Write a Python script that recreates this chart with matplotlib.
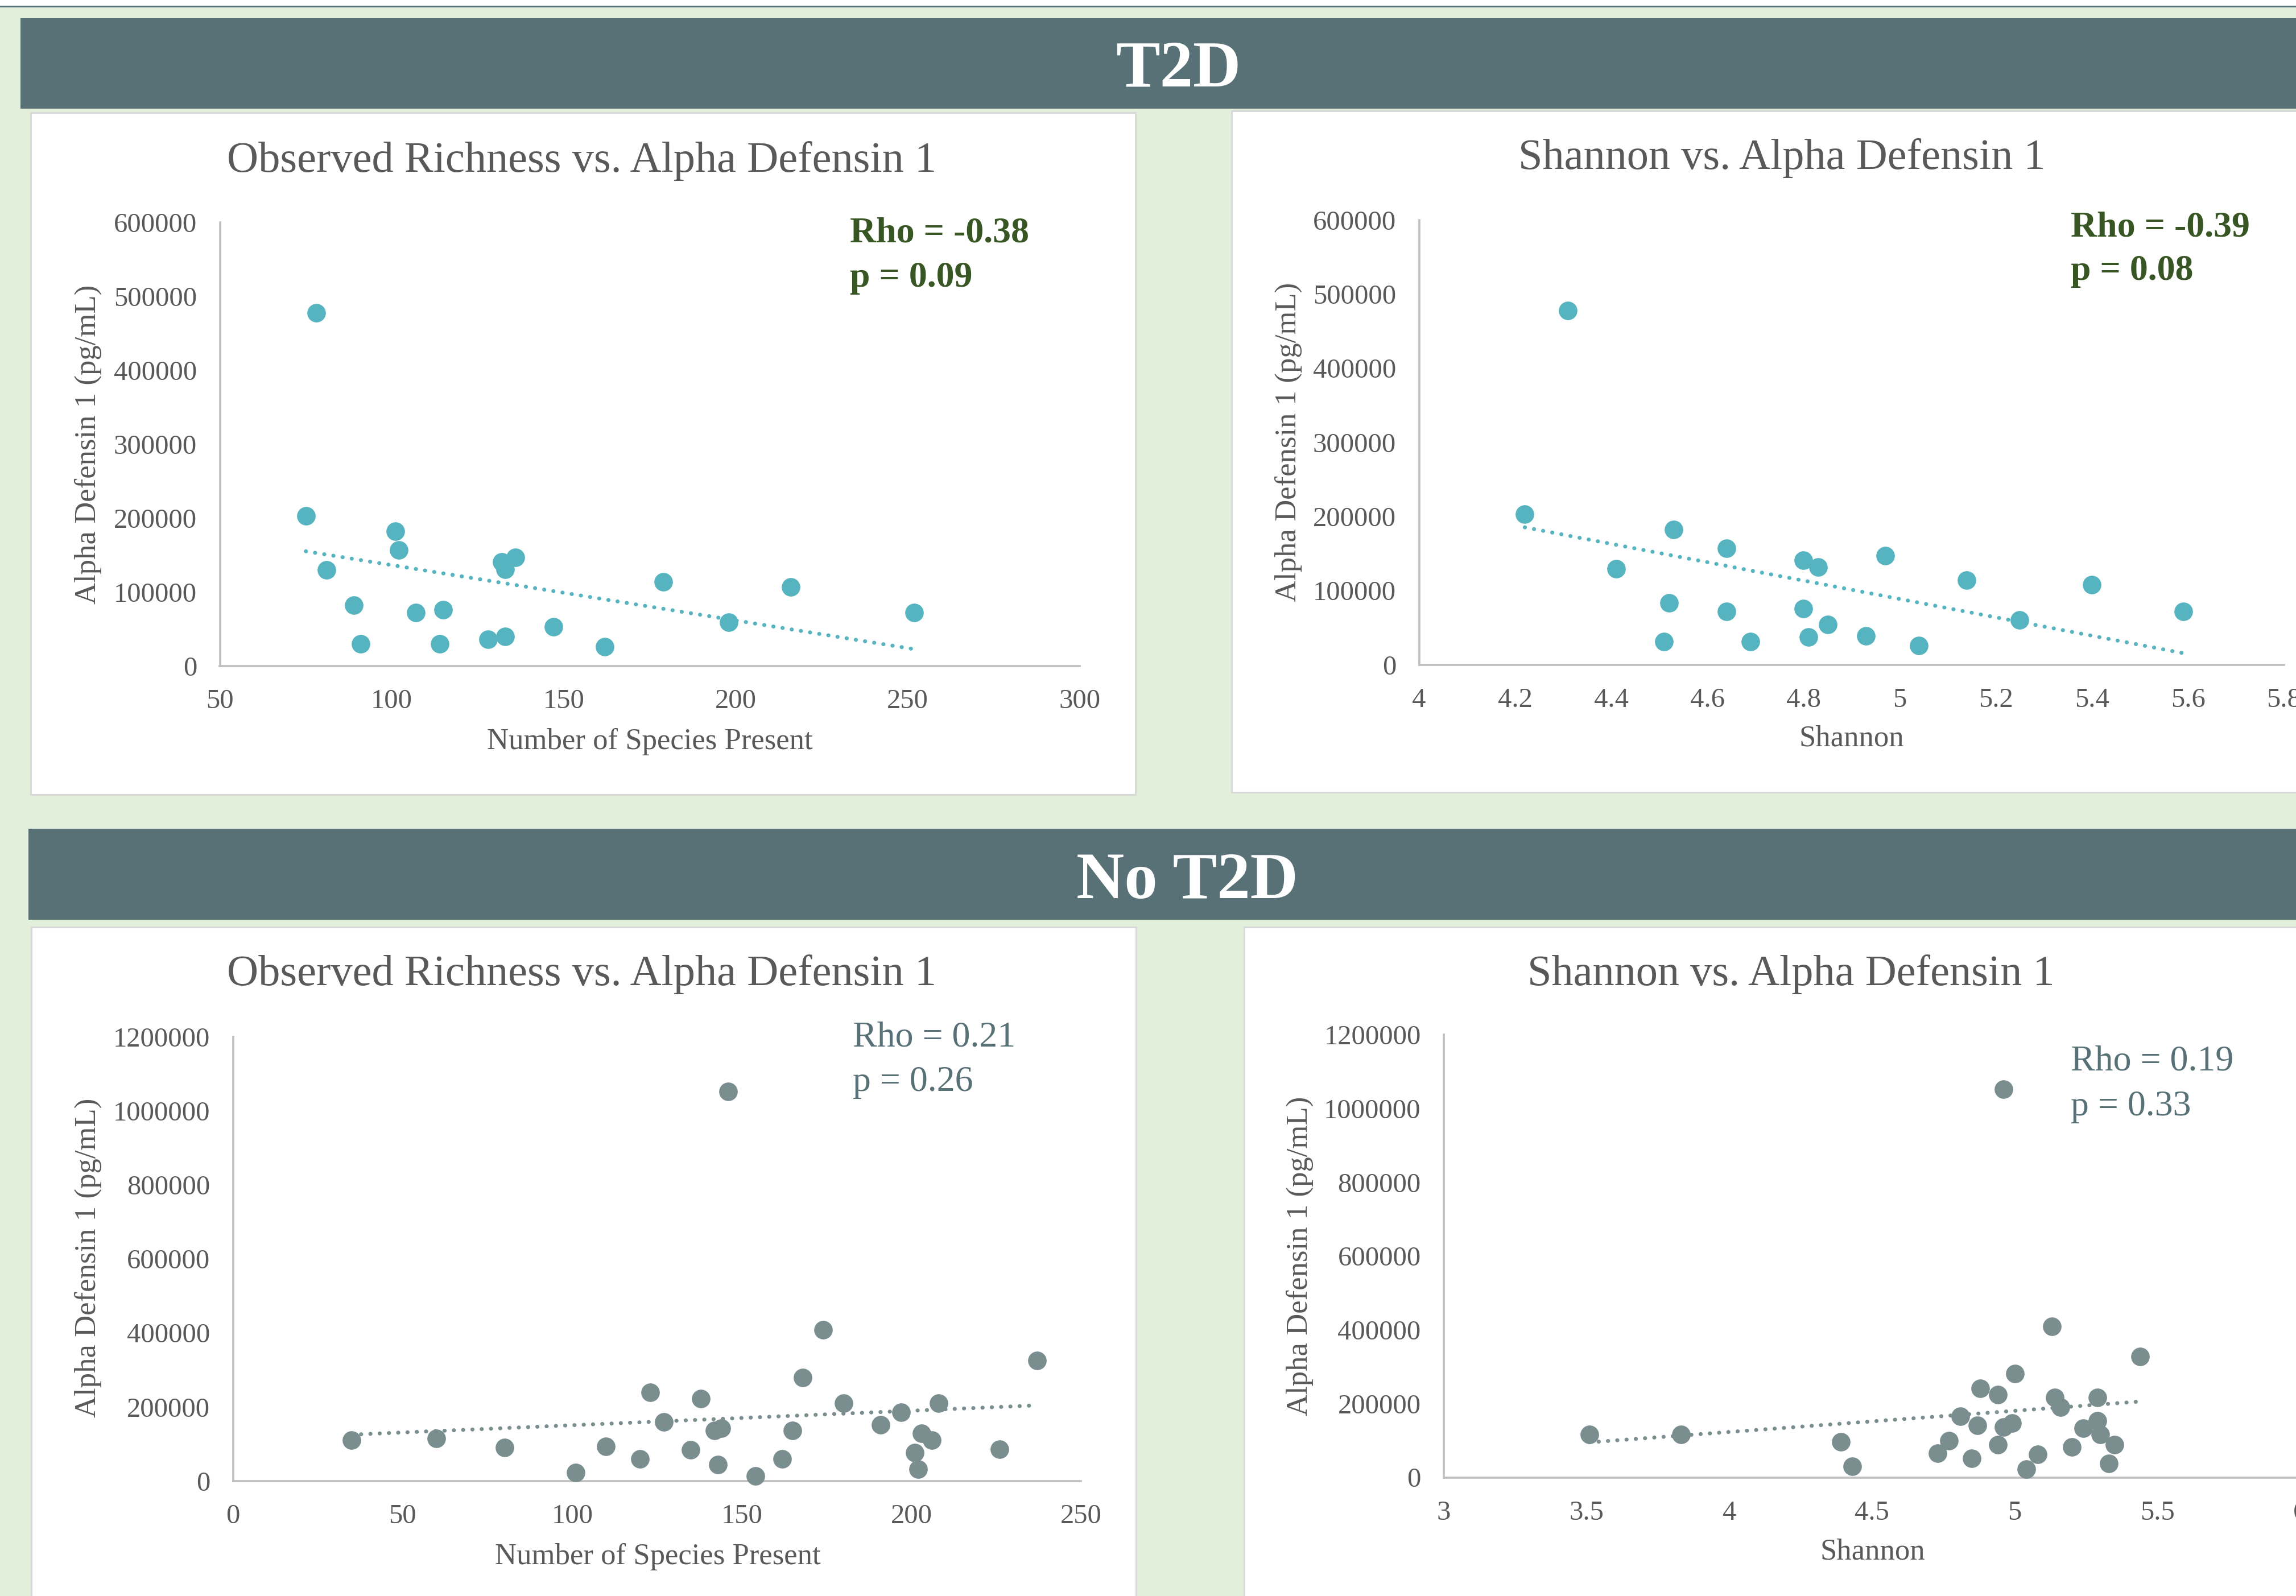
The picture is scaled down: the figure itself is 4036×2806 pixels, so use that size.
import numpy as np
import matplotlib.pyplot as plt
from matplotlib.patches import Rectangle

# ---- data ----
t2d_richness = [78, 75, 81, 89, 91, 101, 102, 107, 114, 115, 128, 132, 133, 133, 136,
                147, 162, 179, 198, 216, 252]
t2d_richness_ad1 = [478000, 203000, 130000, 82000, 30000, 182000, 157000, 72000, 30000,
                    76000, 36000, 141000, 131000, 40000, 147000, 53000, 26000, 114000,
                    59000, 107000, 72000]

t2d_shannon = [4.22, 4.31, 4.41, 4.51, 4.52, 4.53, 4.64, 4.64, 4.69, 4.80, 4.80, 4.81,
               4.83, 4.85, 4.93, 4.97, 5.04, 5.14, 5.25, 5.40, 5.59]
t2d_shannon_ad1 = [203000, 478000, 129000, 31000, 83000, 182000, 157000, 72000, 31000,
                   141000, 76000, 37000, 132000, 54000, 39000, 147000, 26000, 114000,
                   60000, 108000, 72000]

not2d_richness = [35, 60, 80, 101, 110, 120, 123, 127, 135, 138, 142, 144, 143, 146, 154,
                  162, 165, 168, 174, 180, 191, 197, 201, 202, 203, 206, 208, 226, 237]
not2d_richness_ad1 = [110000, 115000, 90000, 22000, 93000, 60000, 239000, 160000, 84000,
                      223000, 136000, 143000, 44000, 1052000, 14000, 60000, 136000, 280000,
                      409000, 210000, 151000, 186000, 77000, 32000, 128000, 110000, 210000,
                      85000, 326000]

not2d_shannon = [3.51, 3.83, 4.39, 4.43, 4.73, 4.77, 4.81, 4.85, 4.87, 4.88, 4.94, 4.94,
                 4.96, 4.96, 4.99, 5.00, 5.04, 5.08, 5.13, 5.14, 5.16, 5.20, 5.24, 5.29,
                 5.29, 5.30, 5.33, 5.35, 5.44]
not2d_shannon_ad1 = [116000, 116000, 96000, 30000, 66000, 100000, 166000, 51000, 141000,
                     241000, 224000, 89000, 1052000, 136000, 147000, 282000, 22000, 63000,
                     410000, 216000, 190000, 83000, 133000, 154000, 217000, 116000, 38000,
                     89000, 328000]

stats = [("Rho = -0.38", "p = 0.09"), ("Rho = -0.39", "p = 0.08"),
         ("Rho = 0.21", "p = 0.26"), ("Rho = 0.19", "p = 0.33")]

W, H = 4037, 2806
BG = "#E2EFDA"
BANNER = "#587177"
TEAL = "#56B4C0"
SLATE = "#7A8D8F"
GREY_TXT = "#595959"
AXIS = "#BFBFBF"
FONT = "Liberation Serif"

plt.rcParams["font.family"] = [FONT, "DejaVu Serif"]

fig = plt.figure(figsize=(W / 100, H / 100), dpi=100, facecolor=BG)


def fx(x):
    return x / W


def fy(y):
    return 1 - y / H


def rect(x0, y0, x1, y1, color, edge=None, lw=0):
    fig.add_artist(Rectangle((fx(x0), fy(y1)), fx(x1) - fx(x0), fy(y0) - fy(y1),
                             transform=fig.transFigure, facecolor=color,
                             edgecolor=edge if edge else color, linewidth=lw, zorder=0))


# top white strip and thin rule
rect(0, 0, W, 10, "white")
rect(0, 10, W, 13, BANNER)

# banners
rect(36, 32, W + 10, 191, BANNER)
rect(50, 1457, W + 10, 1617, BANNER)
fig.text(fx(2071), fy(151), "T2D", color="white", fontsize=84, fontweight="bold",
         ha="center", va="baseline")
fig.text(fx(2087), fy(1579), "No T2D", color="white", fontsize=84, fontweight="bold",
         ha="center", va="baseline")

# white chart panels
rect(54, 198, 1996, 1397, "white", "#D9D9D9", 2.2)
rect(2165, 195, W + 20, 1393, "white", "#D9D9D9", 2.2)
rect(55, 1630, 1997, H + 20, "white", "#D9D9D9", 2.2)
rect(2187, 1630, W + 20, H + 20, "white", "#D9D9D9", 2.2)

panels = [
    dict(x=t2d_richness, y=t2d_richness_ad1, box=(386.5, 391, 1897.6, 1171),
         xlim=(50, 300), xticks=[50, 100, 150, 200, 250, 300], ylim=(0, 600000),
         yticks=range(0, 600001, 100000), color=TEAL,
         title="Observed Richness vs. Alpha Defensin 1", tpos=(1023, 283),
         xlabel="Number of Species Present", xlpos=(1142, 1304), ylpos=(155, 781),
         spos=(1494, 410, 489), scolor="#375623", sweight="bold"),
    dict(x=t2d_shannon, y=t2d_shannon_ad1, box=(2494.5, 387, 4015, 1168.5),
         xlim=(4, 5.8), xticks=[4, 4.2, 4.4, 4.6, 4.8, 5, 5.2, 5.4, 5.6, 5.8],
         ylim=(0, 600000), yticks=range(0, 600001, 100000), color=TEAL,
         title="Shannon vs. Alpha Defensin 1", tpos=(3132, 278),
         xlabel="Shannon", xlpos=(3255, 1299), ylpos=(2265, 777),
         spos=(3640, 400, 477), scolor="#375623", sweight="bold"),
    dict(x=not2d_richness, y=not2d_richness_ad1, box=(409.7, 1823, 1900, 2603.7),
         xlim=(0, 250), xticks=[0, 50, 100, 150, 200, 250], ylim=(0, 1200000),
         yticks=range(0, 1200001, 200000), color=SLATE,
         title="Observed Richness vs. Alpha Defensin 1", tpos=(1023, 1713),
         xlabel="Number of Species Present", xlpos=(1156, 2737), ylpos=(155, 2211),
         spos=(1499, 1825, 1903), scolor=BANNER, sweight="normal"),
    dict(x=not2d_shannon, y=not2d_shannon_ad1, box=(2538, 1819, 4043.5, 2597.5),
         xlim=(3, 6), xticks=[3, 3.5, 4, 4.5, 5, 5.5, 6], ylim=(0, 1200000),
         yticks=range(0, 1200001, 200000), color=SLATE,
         title="Shannon vs. Alpha Defensin 1", tpos=(3148, 1713),
         xlabel="Shannon", xlpos=(3292, 2729), ylpos=(2285, 2208),
         spos=(3640, 1867, 1946), scolor=BANNER, sweight="normal"),
]

for i, p in enumerate(panels):
    x0, y0, x1, y1 = p["box"]
    ax = fig.add_axes([fx(x0), fy(y1), fx(x1) - fx(x0), fy(y0) - fy(y1)])
    ax.set_facecolor("none")
    ax.patch.set_alpha(0)
    xs = np.array(p["x"], dtype=float)
    ys = np.array(p["y"], dtype=float)

    # linear trendline over the data range
    k, b = np.polyfit(xs, ys, 1)
    tx = np.array([xs.min(), xs.max()])
    ax.plot(tx, k * tx + b, color=p["color"], lw=5, linestyle=(0, (0.05, 2.3)),
            dash_capstyle="round", zorder=2)
    ax.plot(xs, ys, "o", ms=22.5, color=p["color"], mec=p["color"], zorder=3,
            clip_on=False)

    ax.set_xlim(*p["xlim"])
    ax.set_ylim(*p["ylim"])
    ax.set_xticks(p["xticks"])
    ax.set_yticks(list(p["yticks"]))
    ax.set_xticklabels([f"{t:g}" for t in p["xticks"]])
    ax.set_yticklabels([str(t) for t in p["yticks"]])
    for s in ["top", "right"]:
        ax.spines[s].set_visible(False)
    for s in ["left", "bottom"]:
        ax.spines[s].set_color(AXIS)
        ax.spines[s].set_linewidth(2.6)
    ax.tick_params(length=0, pad=29, labelsize=35, labelcolor=GREY_TXT)

    fig.text(fx(p["tpos"][0]), fy(p["tpos"][1]), p["title"], fontsize=55,
             color=GREY_TXT, ha="center", va="center")
    fig.text(fx(p["xlpos"][0]), fy(p["xlpos"][1]), p["xlabel"], fontsize=38,
             color=GREY_TXT, ha="center", va="center")
    fig.text(fx(p["ylpos"][0]), fy(p["ylpos"][1]), "Alpha Defensin 1 (pg/mL)",
             fontsize=38, color=GREY_TXT, ha="center", va="center", rotation=90)
    sx, sy1, sy2 = p["spos"]
    fig.text(fx(sx), fy(sy1), stats[i][0], fontsize=46, color=p["scolor"],
             fontweight=p["sweight"], ha="left", va="center")
    fig.text(fx(sx), fy(sy2), stats[i][1], fontsize=46, color=p["scolor"],
             fontweight=p["sweight"], ha="left", va="center")

fig.savefig("out.png", dpi=100, facecolor=BG)
